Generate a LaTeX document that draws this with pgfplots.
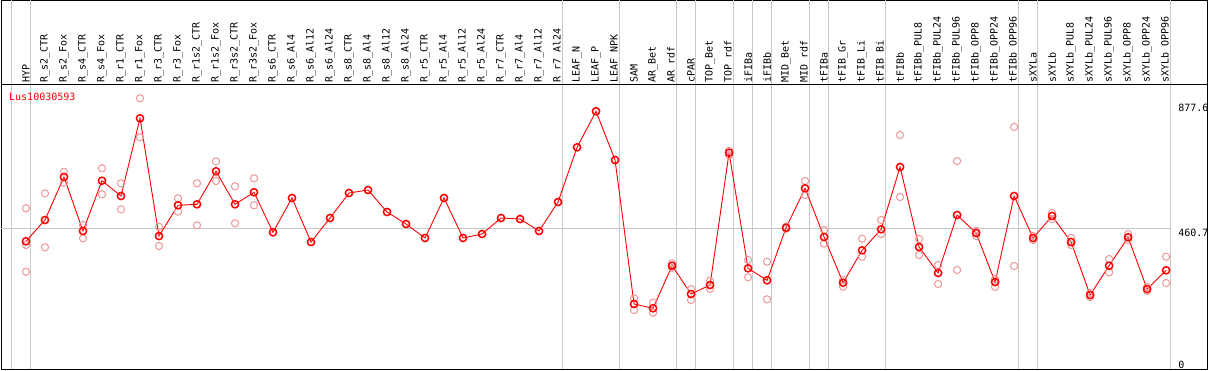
\documentclass[border=0pt]{standalone}
\usepackage{fontspec}
\usepackage{pgfplots}
\usepackage{pgfplotstable}
\pgfplotsset{compat=1.18}
\newfontfamily\monofont{DejaVu Sans Mono}
\definecolor{repcol}{RGB}{238,150,150}
\definecolor{gridgray}{RGB}{200,200,200}

\pgfplotstableread{
x y
0 416.4
1 487.5
2 631.1
3 450.8
4 618.7
5 567.6
6 827.1
7 434.1
8 536.6
9 539.9
10 650.1
11 539.9
12 580.0
13 446.4
14 561.0
15 414.0
16 494.2
17 577.6
18 587.7
19 514.2
20 474.1
21 427.4
22 561.0
23 427.4
24 440.7
25 494.2
26 490.8
27 450.8
28 547.6
29 730.2
30 850.4
31 687.8
32 207.0
33 192.7
34 334.9
35 240.4
36 270.5
37 712.2
38 326.2
39 286.2
40 461.8
41 593.3
42 430.7
43 278.1
44 386.3
45 456.4
46 664.5
47 397.3
48 310.5
49 504.2
50 444.1
51 280.5
52 567.6
53 427.4
54 500.9
55 414.0
56 237.1
57 334.9
58 429.7
59 257.1
60 319.5
}\means

\pgfplotstableread{
x y
0 526.6
0 404.0
0 314.9
1 576.6
1 396.3
2 648.8
2 612.0
3 470.8
3 426.4
4 660.1
4 573.3
5 610.0
5 523.2
6 893.9
6 763.6
7 465.1
7 400.7
8 559.9
8 515.2
9 610.0
9 469.8
10 683.5
10 617.7
11 600.0
11 476.5
12 626.7
12 536.6
32 226.0
32 187.0
33 211.4
33 178.0
34 342.9
34 327.2
35 257.1
35 220.4
36 284.8
36 257.1
37 718.9
37 703.5
38 353.9
38 296.2
39 348.3
39 222.7
40 465.1
40 458.4
41 617.7
41 571.0
42 454.1
42 408.4
43 287.1
43 264.8
44 425.1
44 364.9
45 487.5
45 440.7
46 771.3
46 564.3
47 424.1
47 370.6
48 337.2
48 273.8
49 684.5
49 320.5
50 450.8
50 434.1
51 290.5
51 263.8
52 798.0
52 333.9
53 434.1
53 420.7
54 510.9
54 490.8
55 427.4
55 404.0
56 243.7
56 230.4
57 357.3
57 312.9
58 440.7
58 420.7
59 263.8
59 250.4
60 364.9
60 277.1
}\reps

\begin{document}
\begin{tikzpicture}
\useasboundingbox (0,0) rectangle (1209pt,370pt);
\begin{axis}[
  at={(1.5pt,1pt)}, anchor=south west,
  scale only axis, width=1206pt, height=368.5pt,
  xmin=-1.289, xmax=62.18, ymin=-10.0, ymax=1220.4,
  axis line style={black, line width=1pt},
  clip=false,
  ytick=\empty,
  xtick={0,...,60},
  major tick length=0pt,
  xticklabel pos=upper,
  xticklabel shift=-82.5pt,
  xticklabel style={rotate=90, anchor=west, inner sep=0pt, font=\monofont\fontsize{10}{10}\selectfont},
  xticklabels={HYP,R\_s2\_CTR,R\_s2\_Fox,R\_s4\_CTR,R\_s4\_Fox,R\_r1\_CTR,R\_r1\_Fox,R\_r3\_CTR,R\_r3\_Fox,R\_r1s2\_CTR,R\_r1s2\_Fox,R\_r3s2\_CTR,R\_r3s2\_Fox,R\_s6\_CTR,R\_s6\_Al4,R\_s6\_Al12,R\_s6\_Al24,R\_s8\_CTR,R\_s8\_Al4,R\_s8\_Al12,R\_s8\_Al24,R\_r5\_CTR,R\_r5\_Al4,R\_r5\_Al12,R\_r5\_Al24,R\_r7\_CTR,R\_r7\_Al4,R\_r7\_Al12,R\_r7\_Al24,LEAF\_N,LEAF\_P,LEAF\_NPK,SAM,AR\_Bet,AR\_rdf,cPAR,TOP\_Bet,TOP\_rdf,iFIBa,iFIBb,MID\_Bet,MID\_rdf,tFIBa,tFIB\_Gr,tFIB\_Li,tFIB\_Bi,tFIBb,tFIBb\_PUL8,tFIBb\_PUL24,tFIBb\_PUL96,tFIBb\_OPP8,tFIBb\_OPP24,tFIBb\_OPP96,sXYLa,sXYLb,sXYLb\_PUL8,sXYLb\_PUL24,sXYLb\_PUL96,sXYLb\_OPP8,sXYLb\_OPP24,sXYLb\_OPP96},
  extra x ticks={-0.75,0.25,28.25,31.25,34.25,35.25,37.25,38.25,39.25,41.25,42.25,45.25,52.25,53.25,60.25},
  extra x tick labels={},
  extra x tick style={grid=major, major grid style={gridgray, line width=1pt}},
]
% horizontal reference line and header separator
\addplot[gridgray, line width=1pt, forget plot] coordinates {(-1.289,460.7) (60.25,460.7)};
\draw[black, line width=1pt] (axis cs:-1.289,938.3) -- (axis cs:62.18,938.3);
% replicates
\addplot[only marks, mark=o, mark size=3.6pt, repcol, mark options={line width=1pt}] table[x=x,y=y] {\reps};
% means
\addplot[red, line width=0.9pt, mark=o, mark size=3.6pt, mark options={line width=1.5pt}] table[x=x,y=y] {\means};
% labels
\node[anchor=north west, inner sep=0pt, text=red, font=\monofont\fontsize{10}{10}\selectfont] at (axis cs:-0.895,911.5) {Lus10030593};
\node[anchor=north west, inner sep=0pt, font=\monofont\fontsize{10}{10}\selectfont] at (axis cs:60.63,874.8) {877.6};
\node[anchor=north west, inner sep=0pt, font=\monofont\fontsize{10}{10}\selectfont] at (axis cs:60.63,458.8) {460.7};
\node[anchor=north west, inner sep=0pt, font=\monofont\fontsize{10}{10}\selectfont] at (axis cs:60.63,17.7) {0};
\end{axis}
\end{tikzpicture}
\end{document}
